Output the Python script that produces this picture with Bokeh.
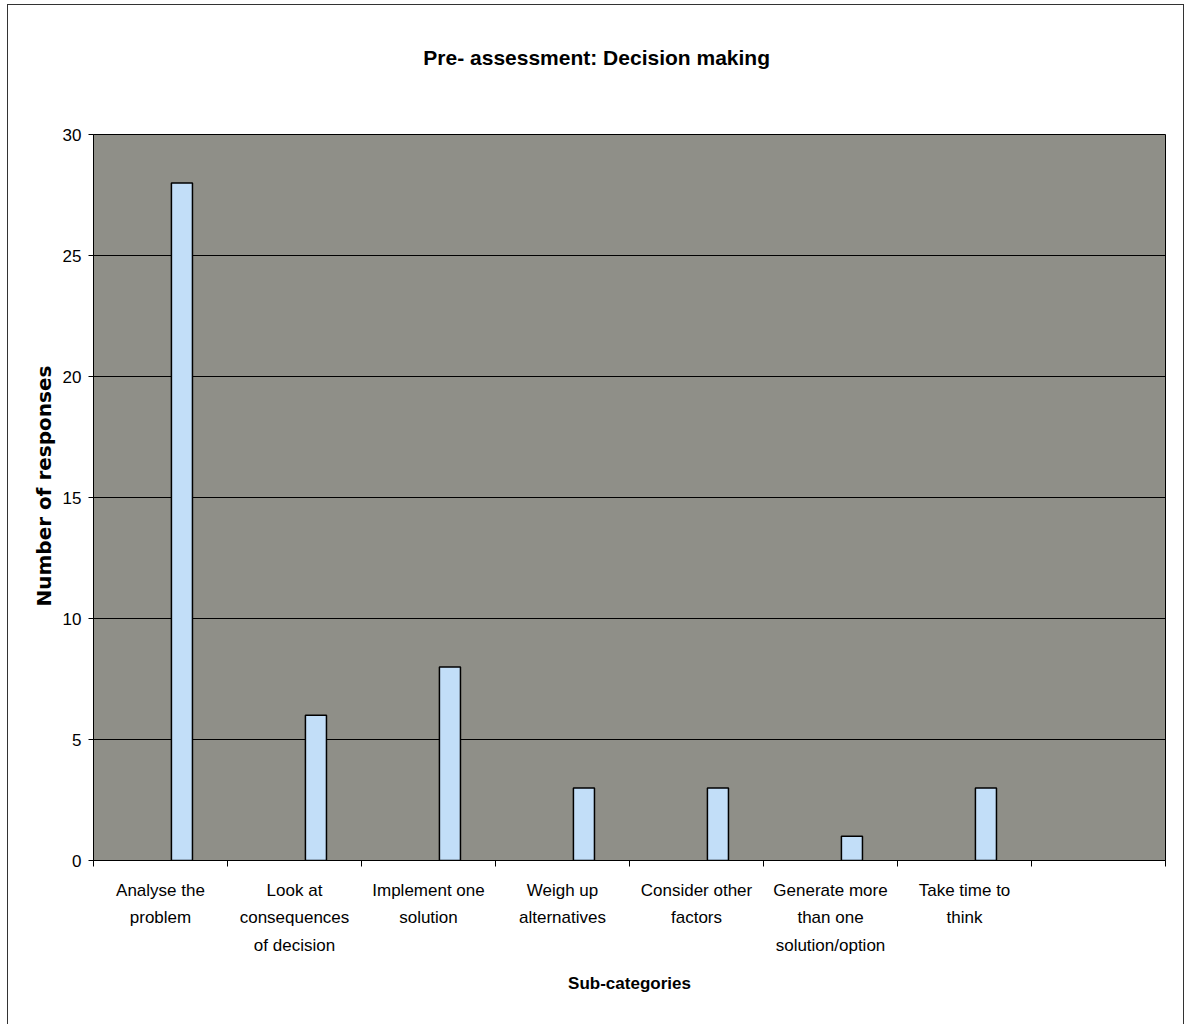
from bokeh.plotting import figure
from bokeh.models import FixedTicker, Title, LinearAxis
from bokeh.embed import file_html
from bokeh.resources import INLINE

# Sub-categories and number of responses
categories = [
    "Analyse the\nproblem",
    "Look at\nconsequences\nof decision",
    "Implement one\nsolution",
    "Weigh up\nalternatives",
    "Consider other\nfactors",
    "Generate more\nthan one\nsolution/option",
    "Take time to\nthink",
]
responses = [28, 6, 8, 3, 3, 1, 3]
n_slots = 8  # the category axis holds one spare, empty slot at the end
y_ticks = [0, 5, 10, 15, 20, 25, 30]
chart_title = "Pre- assessment: Decision making"

centers = [i + 0.5 for i in range(len(categories))]
boundaries = list(range(n_slots + 1))
bar_x = [c + 0.16 for c in centers]  # series sits right of the slot centre
title_x = 3.755  # horizontal centre of the chart title, in slot units

p = figure(
    width=1177, height=1030,
    x_range=(0, n_slots), y_range=(0, 30),
    output_backend="svg", toolbar_location=None,
    min_border_left=85, min_border_right=20,
    min_border_top=129, min_border_bottom=175,
    background_fill_color="#8f8f88", border_fill_color="white",
)
p.styles = {"border": "1.5px solid #333333", "margin-left": "7px", "margin-top": "4px"}

p.vbar(x=bar_x, top=responses, width=0.157, bottom=0,
       fill_color="#c2def8", line_color="black", line_width=1.5)

# Chart title, carried by a bare axis above the frame
title_axis = LinearAxis(
    ticker=FixedTicker(ticks=[title_x]),
    major_label_overrides={title_x: chart_title},
    major_label_standoff=66,
    major_label_text_font="Liberation Sans",
    major_label_text_font_size="21px",
    major_label_text_font_style="bold",
    major_label_text_color="black",
    major_tick_out=0, major_tick_in=0,
    minor_tick_out=0, minor_tick_in=0,
    axis_line_color=None,
)
p.add_layout(title_axis, "above")

# Vertical axis title
p.add_layout(Title(
    text="Number of responses", align="left", offset=254, standoff=8,
    text_font="DejaVu Sans", text_font_size="20px", text_font_style="bold",
    text_color="black",
), "left")

# Frame and grid
p.outline_line_color = "black"
p.outline_line_width = 1
p.xgrid.grid_line_color = None
p.ygrid.grid_line_color = "black"
p.ygrid.grid_line_width = 1
p.ygrid.ticker = FixedTicker(ticks=y_ticks)

# Y axis
p.yaxis.ticker = FixedTicker(ticks=y_ticks)
p.yaxis.major_label_text_font = "Liberation Sans"
p.yaxis.major_label_text_font_size = "17px"
p.yaxis.major_label_text_color = "black"
p.yaxis.major_label_standoff = 7
p.yaxis.major_tick_out = 5
p.yaxis.major_tick_in = 0
p.yaxis.minor_tick_out = 0
p.yaxis.minor_tick_in = 0
p.yaxis.axis_line_color = "black"
p.yaxis.major_tick_line_color = "black"

# X axis: labels at category centres, tick marks between categories
xaxis = p.below[0]
xaxis.ticker = FixedTicker(ticks=centers, minor_ticks=boundaries)
xaxis.major_label_overrides = {c: lab for c, lab in zip(centers, categories)}
xaxis.major_tick_out = 0
xaxis.major_tick_in = 0
xaxis.minor_tick_out = 6
xaxis.minor_tick_in = 0
xaxis.minor_tick_line_color = "black"
xaxis.axis_line_color = "black"
xaxis.major_label_text_font = "Liberation Sans"
xaxis.major_label_text_font_size = "17px"
xaxis.major_label_text_color = "black"
xaxis.major_label_text_line_height = 1.45
xaxis.major_label_standoff = 14
xaxis.axis_label = "Sub-categories"
xaxis.axis_label_text_font = "Liberation Sans"
xaxis.axis_label_text_font_size = "17px"
xaxis.axis_label_text_font_style = "bold"
xaxis.axis_label_text_color = "black"
xaxis.axis_label_standoff = 16

open("out.html", "w").write(file_html(p, INLINE))
